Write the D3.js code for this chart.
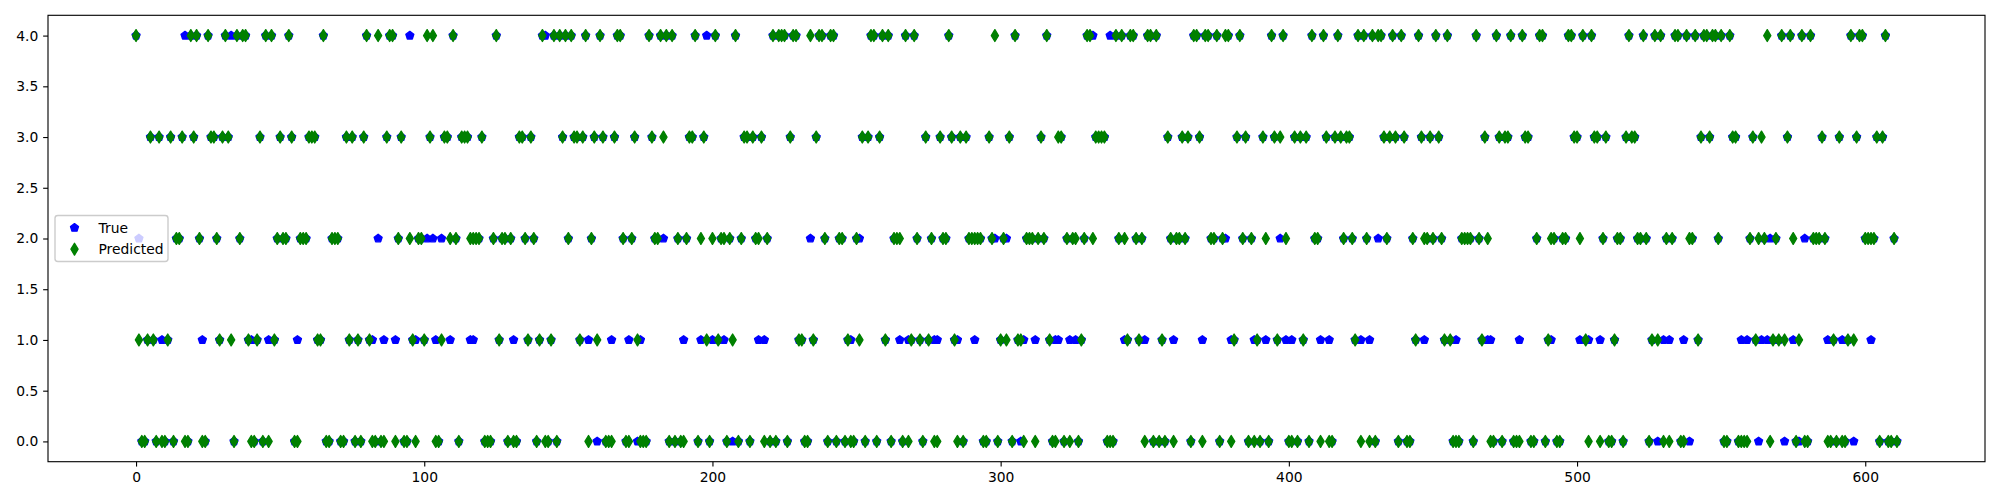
<!DOCTYPE html>
<html><head><meta charset="utf-8">
<script src="https://cdn.jsdelivr.net/npm/d3@7/dist/d3.min.js"></script>
<style>html,body{margin:0;padding:0;background:#fff;} svg{display:block;}</style>
</head><body>
<svg id="chart" width="2000" height="500"></svg>
<script>
// Predicted class for each sample index (green thin diamonds)
const predicted = [
4,1,0,0,1,3,1,0,3,0, 0,1,3,0,2,2,3,0,0,4, 3,4,2,0,0,4,3,3,2,1, 3,4,3,1,0,4,2,4,4,1, 0,0,1,3,0,4,0,4,1,2,
3,2,2,4,3,0,0,2,2,2, 3,3,3,1,1,4,0,0,2,2, 2,0,0,3,1,3,0,1,0,3, 4,1,0,0,4,0,0,3,4,4, 0,2,3,0,0,2,1,0,2,2,
1,4,3,4,0,0,1,3,3,2, 4,2,0,3,3,3,2,2,2,2, 3,0,0,0,2,4,1,2,2,0, 2,0,0,3,3,2,1,3,2,0, 1,4,0,0,1,4,0,4,3,4,
2,4,3,3,1,3,4,0,2,3, 1,4,3,0,0,0,3,4,4,2, 0,0,2,3,1,0,0,0,4,3, 2,2,4,3,4,0,4,0,2,0, 0,2,3,3,4,0,2,3,1,0,
2,4,1,2,2,0,2,1,4,0, 2,3,3,0,3,2,2,3,0,2, 0,4,0,4,4,4,0,3,4,4, 1,1,0,0,4,1,3,4,4,2, 0,4,4,0,2,2,0,1,0,0,
2,1,3,0,3,4,4,0,3,4, 1,4,0,2,2,2,0,4,0,1, 4,2,1,0,3,1,2,0,0,3, 2,2,4,3,1,0,3,0,3,2, 2,2,2,2,0,0,3,2,4,0,
1,2,1,3,0,4,1,1,0,2, 2,2,0,2,3,2,4,1,0,0, 3,3,0,2,0,2,2,0,1,2, 4,4,2,3,3,3,3,0,0,0, 4,2,4,2,1,4,4,2,1,2,
0,4,4,0,4,0,1,0,3,2, 0,2,2,3,2,3,0,4,4,3, 0,4,4,2,2,4,0,2,4,4, 0,1,3,4,2,3,0,2,0,1, 0,3,2,0,4,3,1,3,4,2,
0,0,3,0,3,1,3,0,4,2, 2,0,4,3,0,0,3,4,3,2, 3,3,2,1,4,0,4,2,0,4, 0,4,4,3,2,3,4,3,0,4, 3,0,0,2,1,4,3,2,2,3,
2,4,3,2,1,4,1,0,0,0, 2,2,2,2,0,4,2,1,3,2, 0,0,4,3,0,3,3,4,0,0, 0,4,3,3,0,0,2,4,4,0, 1,2,2,0,0,2,2,4,4,3,
3,2,4,1,0,4,3,3,0,2, 3,0,0,1,2,2,0,3,4,3, 3,2,2,4,2,0,1,4,1,4, 0,2,0,2,4,4,0,0,4,2, 2,4,1,3,4,4,3,4,4,2,
4,0,0,4,3,3,0,0,0,0, 2,3,1,2,3,2,4,0,1,2, 1,4,1,3,4,2,0,1,4,0, 0,4,2,2,2,3,2,0,0,1, 0,3,0,0,1,4,1,3,4,4,
2,2,2,2,3,0,3,4,0,0, 2,0
];
// True class for each sample index (blue pentagons)
const actual = [
4,2,0,0,1,3,1,0,3,1, 0,1,3,0,2,2,3,4,0,4, 3,4,2,1,0,4,3,3,2,1, 3,4,3,4,0,4,2,4,4,1, 1,0,1,3,0,4,1,4,1,2,
3,2,2,4,3,0,1,2,2,2, 3,3,3,1,1,4,0,0,2,2, 2,0,0,3,1,3,0,1,0,3, 4,1,1,0,2,0,1,3,4,4, 1,2,3,0,0,4,1,1,2,2,
1,2,3,2,1,0,2,3,3,1, 4,2,0,3,3,3,1,1,2,2, 3,0,0,0,2,4,1,2,2,0, 2,1,0,3,3,2,1,3,2,0, 1,4,4,0,1,4,0,4,3,4,
2,4,3,3,1,3,4,1,2,3, 0,4,3,0,0,1,3,4,4,2, 0,1,2,3,0,1,0,0,4,3, 2,2,4,2,4,0,4,0,2,0, 1,2,3,3,4,0,1,3,4,0,
1,4,1,2,1,0,2,0,4,0, 2,3,3,0,3,2,1,3,1,2, 0,4,0,4,4,4,0,3,4,4, 1,1,0,0,2,1,3,4,4,2, 0,4,4,0,2,2,0,1,1,0,
2,2,3,0,3,4,4,0,3,4, 1,4,0,2,2,1,0,4,1,1, 4,2,1,0,3,1,2,1,1,3, 2,2,4,3,1,1,3,0,3,2, 2,1,2,2,0,0,3,2,2,0,
1,2,2,3,0,4,1,0,1,2, 2,2,1,2,3,2,4,1,0,1, 1,3,0,2,1,2,1,0,1,2, 4,4,4,3,3,3,3,0,4,0, 4,2,4,1,1,4,4,2,1,2,
1,4,4,0,4,0,1,0,3,2, 1,2,2,3,2,3,0,4,4,3, 1,4,4,2,2,4,0,2,2,4, 1,1,3,4,2,3,0,2,1,1, 0,3,1,0,4,3,1,2,4,1,
0,1,3,0,3,1,3,0,4,2, 2,1,4,3,1,0,3,4,3,2, 3,3,2,1,4,1,4,2,1,4, 0,2,4,3,2,3,4,3,0,4, 3,0,0,2,1,4,3,1,2,3,
2,4,3,2,1,4,1,0,1,0, 2,2,2,2,0,4,2,1,3,1, 1,0,4,3,0,3,3,4,0,0, 1,4,3,3,0,0,2,4,4,0, 1,1,2,0,0,2,2,4,4,3,
3,1,4,1,1,4,3,3,1,2, 3,0,0,1,2,2,0,3,4,3, 3,2,2,4,2,0,1,4,0,4, 1,2,1,2,4,4,0,1,4,0, 2,4,1,3,4,4,3,4,4,2,
4,0,0,4,3,3,0,1,0,1, 2,3,1,0,1,2,1,2,1,2, 1,4,0,3,4,1,0,0,4,2, 0,4,2,2,2,3,2,1,0,1, 0,3,1,0,1,4,0,3,4,4,
2,2,1,2,3,0,3,4,0,0, 2,0
];
const xTickValues = [0, 100, 200, 300, 400, 500, 600];
const yTickValues = [0.0, 0.5, 1.0, 1.5, 2.0, 2.5, 3.0, 3.5, 4.0];
const legendLabels = ["True", "Predicted"];
const seriesColors = ["#0000ff", "#008000"];

const svg = d3.select("#chart");
const W = 2000, H = 500;
const plot = {left: 48, right: 1985, top: 15.3, bottom: 461.7};
const n = predicted.length;
const xPad = (n - 1) * 0.05, yPad = 4 * 0.05;
const x = d3.scaleLinear().domain([-xPad, n - 1 + xPad]).range([plot.left, plot.right]);
const y = d3.scaleLinear().domain([-yPad, 4 + yPad]).range([plot.bottom, plot.top]);

svg.append("rect").attr("width", W).attr("height", H).attr("fill", "#fff");

const pt = 100 / 72;
const ms = 6 * pt;             // markersize in px
const ew = 1 * pt;             // marker edge width
// pentagon
const pr = 0.5 * ms;
const pentPts = d3.range(5).map(k => {
  const a = -Math.PI / 2 + k * 2 * Math.PI / 5;
  return [pr * Math.cos(a), pr * Math.sin(a)];
});
const pentPath = "M" + pentPts.map(p => p[0].toFixed(3) + "," + p[1].toFixed(3)).join("L") + "Z";
// thin diamond
const dh = Math.SQRT1_2 * ms, dw = 0.6 * Math.SQRT1_2 * ms;
const diaPath = `M0,${-dh}L${dw},0L0,${dh}L${-dw},0Z`;

const clip = svg.append("clipPath").attr("id", "clip").append("rect")
  .attr("x", plot.left).attr("y", plot.top)
  .attr("width", plot.right - plot.left).attr("height", plot.bottom - plot.top);

const g = svg.append("g").attr("clip-path", "url(#clip)");
g.append("g").selectAll("path").data(actual).join("path")
  .attr("d", pentPath)
  .attr("transform", (d, i) => `translate(${x(i)},${y(d)})`)
  .attr("fill", seriesColors[0]).attr("stroke", seriesColors[0]).attr("stroke-width", ew)
  .attr("stroke-linejoin", "round");
g.append("g").selectAll("path").data(predicted).join("path")
  .attr("d", diaPath)
  .attr("transform", (d, i) => `translate(${x(i)},${y(d)})`)
  .attr("fill", seriesColors[1]).attr("stroke", seriesColors[1]).attr("stroke-width", ew)
  .attr("stroke-linejoin", "round");

// axes
const tickLen = 3.5 * pt, tickPad = 3.5 * pt, fs = 10 * pt;
const xAxis = d3.axisBottom(x).tickValues(xTickValues).tickFormat(d3.format("d"))
  .tickSize(tickLen).tickSizeOuter(0).tickPadding(tickPad);
const yAxis = d3.axisLeft(y).tickValues(yTickValues).tickFormat(d3.format(".1f"))
  .tickSize(tickLen).tickSizeOuter(0).tickPadding(tickPad);

const gx = svg.append("g").attr("transform", `translate(0,${plot.bottom})`).call(xAxis);
const gy = svg.append("g").attr("transform", `translate(${plot.left},0)`).call(yAxis);
[gx, gy].forEach(a => {
  a.select(".domain").remove();
  a.selectAll("line").attr("stroke", "#000").attr("stroke-width", 0.8 * pt);
  a.selectAll("text").attr("fill", "#000").style("font-family", "DejaVu Sans")
    .style("font-size", fs + "px");
});
gx.selectAll("text").attr("dy", "0.76em");

svg.append("rect").attr("x", plot.left).attr("y", plot.top)
  .attr("width", plot.right - plot.left).attr("height", plot.bottom - plot.top)
  .attr("fill", "none").attr("stroke", "#000").attr("stroke-width", 0.8 * pt);

// legend (center left)
const lg = svg.append("g");
const lx = 55, lw = 113, lh = 46;
const ly = (plot.top + plot.bottom) / 2 - lh / 2;
lg.append("rect").attr("x", lx).attr("y", ly).attr("width", lw).attr("height", lh)
  .attr("rx", 2.8).attr("fill", "#fff").attr("fill-opacity", 0.8)
  .attr("stroke", "#cccccc").attr("stroke-width", pt);
const rowY = [ly + 12.3, ly + 33.7];
legendLabels.forEach((lab, i) => {
  lg.append("path").attr("d", i === 0 ? pentPath : diaPath)
    .attr("transform", `translate(${lx + 19.5},${rowY[i]})`)
    .attr("fill", seriesColors[i]).attr("stroke", seriesColors[i]).attr("stroke-width", ew)
    .attr("stroke-linejoin", "round");
  lg.append("text").attr("x", lx + 43.5).attr("y", rowY[i]).attr("dy", "0.35em")
    .style("font-family", "DejaVu Sans").style("font-size", fs + "px").attr("fill", "#000")
    .text(lab);
});
</script>
</body></html>
